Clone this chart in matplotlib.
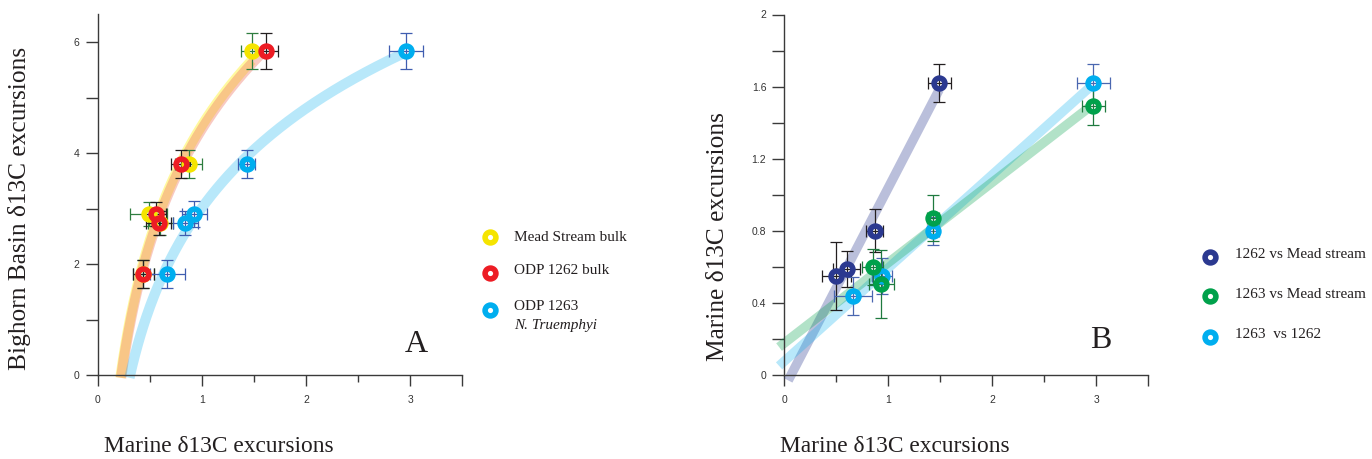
import numpy as np
import matplotlib
matplotlib.use("Agg")
import matplotlib.pyplot as plt
from matplotlib.lines import Line2D

# ---------------- data: panel A ----------------
mead_x = [0.44, 0.60, 0.49, 0.875, 1.48]
mead_y = [1.82, 2.74, 2.90, 3.80, 5.84]
mead_xerr = [0.10, 0.12, 0.18, 0.13, 0.10]
mead_yerr = [0.25, 0.22, 0.22, 0.25, 0.32]

odp1262_x = [0.44, 0.59, 0.56, 0.80, 1.62]
odp1262_y = [1.82, 2.74, 2.90, 3.80, 5.84]
odp1262_xerr = [0.10, 0.12, 0.10, 0.09, 0.11]
odp1262_yerr = [0.25, 0.22, 0.22, 0.25, 0.32]

odp1263_x = [0.67, 0.84, 0.93, 1.43, 2.96]
odp1263_y = [1.82, 2.74, 2.90, 3.80, 5.84]
odp1263_xerr = [0.17, 0.12, 0.12, 0.08, 0.16]
odp1263_yerr = [0.25, 0.22, 0.24, 0.25, 0.32]

# ---------------- data: panel B ----------------
b1262m_x = [0.50, 0.60, 0.87, 1.49]
b1262m_y = [0.55, 0.587, 0.80, 1.62]
b1262m_xerr = [0.14, 0.13, 0.08, 0.11]
b1262m_yerr = [0.19, 0.10, 0.12, 0.105]

b1263m_x = [0.85, 0.93, 1.43, 2.97]
b1263m_y = [0.60, 0.505, 0.87, 1.49]
b1263m_xerr = [0.10, 0.12, 0.06, 0.11]
b1263m_yerr = [0.10, 0.19, 0.126, 0.105]

b1263_1262_x = [0.66, 0.94, 1.43, 2.97]
b1263_1262_y = [0.44, 0.55, 0.80, 1.62]
b1263_1262_xerr = [0.18, 0.10, 0.06, 0.16]
b1263_1262_yerr = [0.105, 0.10, 0.078, 0.105]

legend_A = ["Mead Stream bulk", "ODP 1262 bulk", "ODP 1263"]
legend_A_sub = "N. Truemphyi"
legend_B = ["1262 vs Mead stream", "1263 vs Mead stream", "1263  vs 1262"]

YELLOW = "#F5E400"
RED = "#ED1C24"
CYAN = "#00AEEF"
NAVY = "#2B3990"
GREEN = "#00A14B"

SERIF = ["Liberation Serif", "DejaVu Serif"]
SANS = ["Liberation Sans", "DejaVu Sans"]

W, H = 1372, 459
fig = plt.figure(figsize=(W / 100, H / 100), dpi=100)

def px_axes(x0, x1, y0, y1):
    return fig.add_axes([x0 / W, 1 - y1 / H, (x1 - x0) / W, (y1 - y0) / H])

MS = 7.8
MEW = 4.0

def draw_points(ax, x, y, xerr, yerr, color, ecolor):
    ax.plot(x, y, 'o', ms=6, color='white', mew=0, zorder=5, clip_on=False)
    ax.errorbar(x, y, xerr=xerr, yerr=yerr, fmt='none', ecolor=ecolor,
                elinewidth=0.9, capsize=4.5, capthick=0.9, zorder=6, clip_on=False)
    ax.plot(x, y, 'o', ms=MS, mfc='none', mec=color, mew=MEW, zorder=7, clip_on=False)

def style_axes(ax, xmax, ymax):
    ax.set_xlim(0, 3.5)
    ax.set_ylim(0, ymax)
    for s in ['top', 'right']:
        ax.spines[s].set_visible(False)
    for s in ['left', 'bottom']:
        ax.spines[s].set_color('#3a3a3a')
        ax.spines[s].set_linewidth(1.0)
    ax.set_xticks([0, 1, 2, 3, 3.5])
    ax.set_xticklabels(['0', '1', '2', '3', ''])
    ax.set_xticks([0.5, 1.5, 2.5], minor=True)
    ax.tick_params(axis='x', which='major', length=8.2, width=1.0, color='#3a3a3a',
                   pad=6, labelsize=7.5, labelcolor='#333333')
    ax.tick_params(axis='x', which='minor', length=4.8, width=1.0, color='#3a3a3a')
    ax.tick_params(axis='y', which='both', length=9, width=1.0, color='#3a3a3a',
                   pad=4, labelsize=7.5, labelcolor='#333333')
    for lab in ax.get_xticklabels() + ax.get_yticklabels():
        lab.set_fontfamily(SANS)
    ax.patch.set_alpha(0)

# ---------------- Panel A ----------------
axA = px_axes(97.5, 462.2, 14.25, 375)
style_axes(axA, 3.5, 6.5)
axA.set_yticks([0, 1, 2, 3, 4, 5, 6])
axA.set_yticklabels(['0', '', '2', '', '4', '', '6'])
for lab in axA.get_yticklabels():
    lab.set_fontfamily(SANS)

def log_band(ax, x, y, color, alpha, lw, ylow=-0.05):
    a, b = np.polyfit(np.log(x), y, 1)
    xs0 = np.exp((ylow - b) / a)
    xs = np.linspace(xs0, max(x), 200)
    ax.plot(xs, a * np.log(xs) + b, color=color, alpha=alpha, lw=lw,
            solid_capstyle='butt', zorder=2, clip_on=False)

log_band(axA, mead_x, mead_y, '#FFF000', 0.38, 7.4)
log_band(axA, odp1262_x, odp1262_y, '#EF7A66', 0.40, 7.4)
log_band(axA, odp1263_x, odp1263_y, CYAN, 0.28, 7.4)

draw_points(axA, mead_x, mead_y, mead_xerr, mead_yerr, YELLOW, '#2E7D3F')
draw_points(axA, odp1262_x, odp1262_y, odp1262_xerr, odp1262_yerr, RED, '#231F20')
draw_points(axA, odp1263_x, odp1263_y, odp1263_xerr, odp1263_yerr, CYAN, '#3F5DB0')

fig.text(416.5 / W, 1 - 345 / H, "A", fontsize=23, family=SERIF, color='#231F20',
         ha='center', va='center')

# legend A
leg_cols = [YELLOW, RED, CYAN]
leg_y = [237, 273, 310]
txt_y = [237, 270, 307]
for c, ly, ty, t in zip(leg_cols, leg_y, txt_y, legend_A):
    fig.lines.append(Line2D([490 / W], [1 - ly / H], marker='o', ms=MS, mfc='none',
                            mec=c, mew=MEW, transform=fig.transFigure, figure=fig))
    fig.text(514 / W, 1 - ty / H, t, fontsize=11, family=SERIF, color='#231F20',
             ha='left', va='center')
fig.text(514 / W, 1 - 325.5 / H, legend_A_sub, fontsize=11, family=SERIF,
         style='italic', color='#231F20', ha='left', va='center')

fig.text(20 / W, 1 - 208 / H, "Bighorn Basin δ13C excursions", fontsize=18.3,
         family=SERIF, rotation=90, ha='center', va='center', color='#231F20')
fig.text(219 / W, 1 - 447 / H, "Marine δ13C excursions", fontsize=16.8,
         family=SERIF, ha='center', va='center', color='#231F20')

# ---------------- Panel B ----------------
axB = px_axes(784.3, 1148.3, 14.5, 375)
style_axes(axB, 3.5, 2.0)
axB.set_yticks(np.arange(0, 2.01, 0.2))
axB.set_yticklabels(['0', '', '0.4', '', '0.8', '', '1.2', '', '1.6', '', '2'])
for lab in axB.get_yticklabels():
    lab.set_fontfamily(SANS)

def lin_band(ax, x, y, color, alpha, lw, xstart=None, ylow=None):
    m, c = np.polyfit(x, y, 1)
    if ylow is not None:
        x0 = (ylow - c) / m
    else:
        x0 = xstart
    xs = np.array([x0, max(x)])
    ax.plot(xs, m * xs + c, color=color, alpha=alpha, lw=lw,
            solid_capstyle='butt', zorder=2, clip_on=False)

lin_band(axB, b1262m_x, b1262m_y, NAVY, 0.32, 6.8, ylow=-0.03)
lin_band(axB, b1263_1262_x, b1263_1262_y, CYAN, 0.28, 6.8, xstart=-0.05)
lin_band(axB, b1263m_x, b1263m_y, GREEN, 0.3, 6.8, xstart=-0.05)

draw_points(axB, b1262m_x, b1262m_y, b1262m_xerr, b1262m_yerr, NAVY, '#231F20')
draw_points(axB, b1263_1262_x, b1263_1262_y, b1263_1262_xerr, b1263_1262_yerr, CYAN, '#4A67B0')
draw_points(axB, b1263m_x, b1263m_y, b1263m_xerr, b1263m_yerr, GREEN, '#1F7A3F')

fig.text(1101 / W, 1 - 341 / H, "B", fontsize=23, family=SERIF, color='#231F20',
         ha='center', va='center')

leg_cols_B = [NAVY, GREEN, CYAN]
leg_yB = [256.5, 295.5, 336.5]
txt_yB = [255, 295, 335]
for c, ly, ty, t in zip(leg_cols_B, leg_yB, txt_yB, legend_B):
    fig.lines.append(Line2D([1210 / W], [1 - ly / H], marker='o', ms=MS, mfc='none',
                            mec=c, mew=MEW, transform=fig.transFigure, figure=fig))
    fig.text(1235 / W, 1 - ty / H, t, fontsize=11, family=SERIF, color='#231F20',
             ha='left', va='center')

fig.text(718 / W, 1 - 237 / H, "Marine δ13C excursions", fontsize=18.3,
         family=SERIF, rotation=90, ha='center', va='center', color='#231F20')
fig.text(895 / W, 1 - 447 / H, "Marine δ13C excursions", fontsize=16.8,
         family=SERIF, ha='center', va='center', color='#231F20')

fig.savefig("out.png", dpi=100)
